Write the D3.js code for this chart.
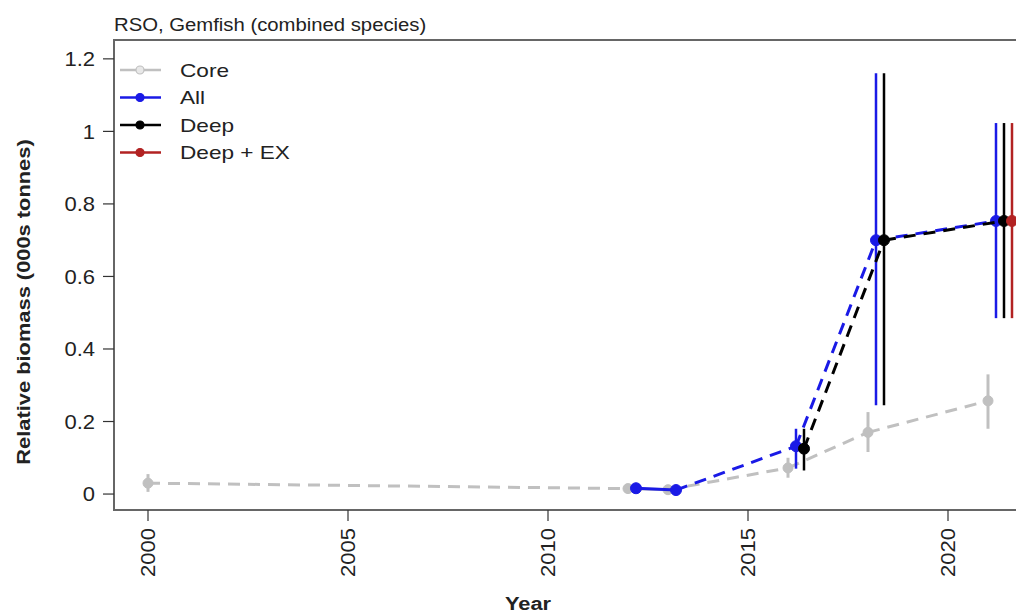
<!DOCTYPE html>
<html>
<head>
<meta charset="utf-8">
<script src="https://cdn.jsdelivr.net/npm/d3@7"></script>
<style>
  body { margin: 0; background: #fff; }
  text { font-family: "Liberation Sans", Arial, sans-serif; }
</style>
</head>
<body>
<svg id="chart" width="1016" height="613"></svg>
<script>
// ---- data ----
const seriesNames = ["Core", "All", "Deep", "Deep + EX"];
const coreYears = [2000, 2012, 2013, 2016, 2018, 2021];
const coreVals  = [0.030, 0.015, 0.012, 0.072, 0.170, 0.257];
const coreLo    = [0.006, 0.008, 0.006, 0.045, 0.116, 0.180];
const coreHi    = [0.055, 0.022, 0.018, 0.100, 0.226, 0.330];
const allYears  = [2012, 2013, 2016, 2018, 2021];
const allVals   = [0.016, 0.011, 0.132, 0.700, 0.753];
const allLo     = [0.010, 0.006, 0.070, 0.245, 0.485];
const allHi     = [0.022, 0.016, 0.180, 1.160, 1.023];
const deepYears = [2016, 2018, 2021];
const deepVals  = [0.125, 0.700, 0.753];
const deepLo    = [0.065, 0.245, 0.485];
const deepHi    = [0.180, 1.160, 1.023];
const deepExYears = [2021];
const deepExVals  = [0.753];
const deepExLo    = [0.485];
const deepExHi    = [1.023];
const xTicks = [2000, 2005, 2010, 2015, 2020];
const yTicks = [0, 0.2, 0.4, 0.6, 0.8, 1, 1.2];

// ---- layout ----
const svg = d3.select("#chart");
const L = 114, T = 40, B = 510, R = 1034;
const x = d3.scaleLinear().domain([1999.15, 2022.15]).range([L, R]);
const y = d3.scaleLinear().domain([-0.044, 1.252]).range([B, T]);
const SX = 1.15; // reference glyphs are wider than Liberation Sans

function label(parent, str, px, py, opts) {
  const o = Object.assign({size: 19, anchor: "start", rot: 0, bold: false, dy: null, sx: SX}, opts || {});
  const t = parent.append("text")
    .attr("transform", `translate(${px},${py}) rotate(${o.rot}) scale(${o.sx},1)`)
    .attr("text-anchor", o.anchor).attr("font-size", o.size).attr("fill", "#222")
    .text(str);
  if (o.bold) t.attr("font-weight", "bold");
  if (o.dy) t.attr("dy", o.dy);
  return t;
}

const series = [
  {name: seriesNames[0], color: "#c0c0c0", off: 0.0, years: coreYears, v: coreVals, lo: coreLo, hi: coreHi, r: 5, ew: 3},
  {name: seriesNames[1], color: "#1a1ae6", off: 0.2, years: allYears, v: allVals, lo: allLo, hi: allHi, r: 5.5, ew: 2.5},
  {name: seriesNames[2], color: "#000000", off: 0.4, years: deepYears, v: deepVals, lo: deepLo, hi: deepHi, r: 5.5, ew: 2.5},
  {name: seriesNames[3], color: "#b22222", off: 0.6, years: deepExYears, v: deepExVals, lo: deepExLo, hi: deepExHi, r: 5.5, ew: 2.5}
];

// title
label(svg, "RSO, Gemfish (combined species)", L, 31, {size: 17.5, sx: 1.16});

const g = svg.append("g");

series.forEach(s => {
  const pts = s.years.map((yr, i) => ({x: x(yr + s.off), y: y(s.v[i]), yr, lo: y(s.lo[i]), hi: y(s.hi[i])}));
  for (let i = 0; i < pts.length - 1; i++) {
    const a = pts[i], b = pts[i + 1];
    const consecutive = (b.yr - a.yr) === 1;
    g.append("line").attr("x1", a.x).attr("y1", a.y).attr("x2", b.x).attr("y2", b.y)
      .attr("stroke", s.color).attr("stroke-width", 3)
      .attr("stroke-dasharray", consecutive ? null : "12,8");
  }
  pts.forEach(p => {
    g.append("line").attr("x1", p.x).attr("x2", p.x).attr("y1", p.lo).attr("y2", p.hi)
      .attr("stroke", s.color).attr("stroke-width", s.ew);
  });
  pts.forEach(p => {
    g.append("circle").attr("cx", p.x).attr("cy", p.y).attr("r", s.r)
      .attr("fill", s.color).attr("stroke", s.color).attr("stroke-width", 1);
  });
});

// box
svg.append("rect").attr("x", L).attr("y", T).attr("width", R - L).attr("height", B - T)
  .attr("fill", "none").attr("stroke", "#666").attr("stroke-width", 2);

// y axis
const yAxis = svg.append("g");
yTicks.forEach(t => {
  yAxis.append("line").attr("x1", L - 11).attr("x2", L).attr("y1", y(t)).attr("y2", y(t))
    .attr("stroke", "#333").attr("stroke-width", 1.2);
  label(yAxis, d3.format("~g")(t), L - 19, y(t), {size: 20, anchor: "end", dy: "0.36em", sx: 1.1});
});
// x axis
const xAxis = svg.append("g");
xTicks.forEach(t => {
  xAxis.append("line").attr("x1", x(t)).attr("x2", x(t)).attr("y1", B).attr("y2", B + 11)
    .attr("stroke", "#333").attr("stroke-width", 1.2);
  label(xAxis, String(t), x(t), B + 18, {size: 20, anchor: "end", rot: -90, dy: "0.36em", sx: 1.1});
});

// axis titles
label(svg, "Relative biomass (000s tonnes)", 30, 302, {size: 19, anchor: "middle", rot: -90, bold: true, sx: 1.15});
label(svg, "Year", 528, 610, {size: 19, anchor: "middle", bold: true, sx: 1.15});

// legend
const leg = svg.append("g");
series.forEach((s, i) => {
  const ly = 70 + i * 27.5;
  leg.append("line").attr("x1", 120).attr("x2", 161).attr("y1", ly).attr("y2", ly)
    .attr("stroke", s.color).attr("stroke-width", 2.5);
  leg.append("circle").attr("cx", 140).attr("cy", ly).attr("r", 4)
    .attr("fill", s.name === "Core" ? "#e8e8e8" : s.color).attr("stroke", s.color).attr("stroke-width", 1.2);
  label(leg, s.name, 180, ly, {size: 19, dy: "0.36em", sx: 1.19});
});
</script>
</body>
</html>
